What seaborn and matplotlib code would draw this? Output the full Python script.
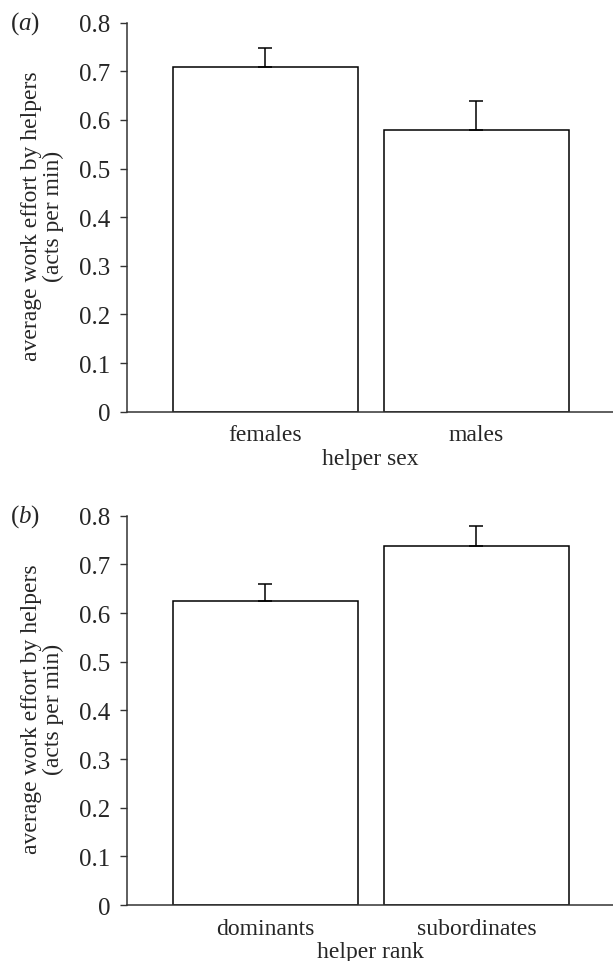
import matplotlib
matplotlib.use('Agg')
import matplotlib.pyplot as plt
import pandas as pd
import seaborn as sns

# values
sex_groups = ['females', 'males']
sex_means = [0.709, 0.580]
sex_se = [0.038, 0.058]

rank_groups = ['dominants', 'subordinates']
rank_means = [0.625, 0.738]
rank_se = [0.034, 0.040]

yticks = [0, 0.1, 0.2, 0.3, 0.4, 0.5, 0.6, 0.7, 0.8]
ytick_labels = ['0', '0.1', '0.2', '0.3', '0.4', '0.5', '0.6', '0.7', '0.8']

sns.set_style('ticks')
plt.rcParams['font.family'] = ['Liberation Serif', 'DejaVu Serif']
plt.rcParams['mathtext.fontset'] = 'custom'
plt.rcParams['mathtext.it'] = 'Liberation Serif:italic'
plt.rcParams['mathtext.rm'] = 'Liberation Serif'

fig = plt.figure(figsize=(6.13, 9.62), dpi=100)
ax1 = fig.add_axes([0.2072, 0.571, 0.7928, 0.4044])
ax2 = fig.add_axes([0.2072, 0.0582, 0.7928, 0.4047])


def draw_panel(ax, groups, means, se, xlabel, tag):
    df = pd.DataFrame({'group': groups, 'value': means})
    sns.barplot(data=df, x='group', y='value', ax=ax, color='white',
                edgecolor='black', linewidth=1.1, width=0.876, errorbar=None)
    # upper error bars only
    ax.errorbar(range(len(groups)), means, yerr=[[0] * len(se), se],
                fmt='none', ecolor='black', elinewidth=1.1, capsize=5.3,
                capthick=1.1, zorder=1)
    ax.set_ylim(0, 0.8)
    ax.set_xlim(-0.654, 1.647)
    ax.set_yticks(yticks)
    ax.set_yticklabels(ytick_labels)
    ax.tick_params(axis='y', length=5, width=1, pad=7, labelsize=18, color='#333333')
    ax.tick_params(axis='x', length=0, pad=9, labelsize=17)
    sns.despine(ax=ax)
    for s in ['left', 'bottom']:
        ax.spines[s].set_color('#333333')
        ax.spines[s].set_linewidth(1.1)
    ax.set_xlabel(xlabel, fontsize=17, labelpad=2)
    ax.set_ylabel('average work effort by helpers\n(acts per min)', fontsize=17,
                  linespacing=1.05)
    ax.yaxis.set_label_coords(-0.13, 0.505)
    ax.text(-0.21, 1.0, '(' + r'$\it{' + tag + '}$' + ')', transform=ax.transAxes,
            fontsize=18, ha='center', va='center')


draw_panel(ax1, sex_groups, sex_means, sex_se, 'helper sex', 'a')
draw_panel(ax2, rank_groups, rank_means, rank_se, 'helper rank', 'b')

fig.savefig('out.png', dpi=100)
